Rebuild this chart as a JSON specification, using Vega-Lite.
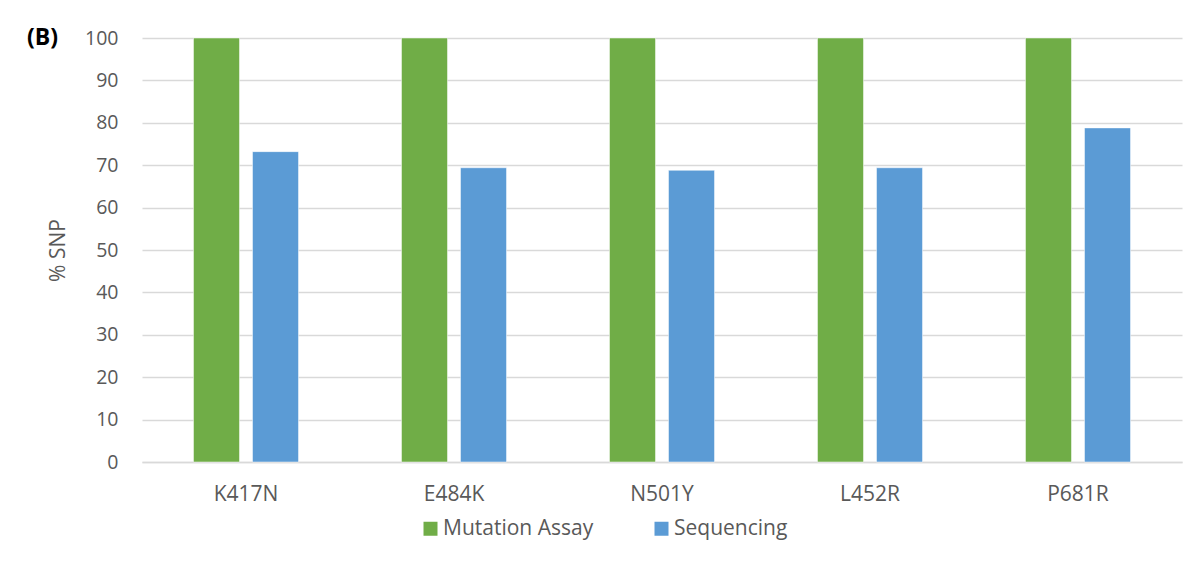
{
  "$schema": "https://vega.github.io/schema/vega-lite/v6.json",
  "width": 1040,
  "height": 424,
  "autosize": {"type": "none"},
  "padding": {"left": 142, "top": 38, "right": 22, "bottom": 117},
  "background": "white",
  "title": {
    "text": "(B)",
    "anchor": "start",
    "frame": "group",
    "orient": "top",
    "offset": 0,
    "baseline": "middle",
    "dx": -115,
    "dy": 33,
    "font": "Open Sans",
    "fontSize": 23,
    "fontWeight": "bold",
    "color": "#000000"
  },
  "data": {
    "values": [
      {"mutation": "K417N", "method": "Mutation Assay", "snp": 100},
      {"mutation": "K417N", "method": "Sequencing", "snp": 73.2},
      {"mutation": "E484K", "method": "Mutation Assay", "snp": 100},
      {"mutation": "E484K", "method": "Sequencing", "snp": 69.4},
      {"mutation": "N501Y", "method": "Mutation Assay", "snp": 100},
      {"mutation": "N501Y", "method": "Sequencing", "snp": 68.8},
      {"mutation": "L452R", "method": "Mutation Assay", "snp": 100},
      {"mutation": "L452R", "method": "Sequencing", "snp": 69.4},
      {"mutation": "P681R", "method": "Mutation Assay", "snp": 100},
      {"mutation": "P681R", "method": "Sequencing", "snp": 78.8}
    ]
  },
  "mark": {"type": "bar", "stroke": "white", "strokeWidth": 0.5},
  "encoding": {
    "x": {
      "field": "mutation",
      "type": "nominal",
      "sort": ["K417N", "E484K", "N501Y", "L452R", "P681R"],
      "scale": {"paddingInner": 0.495, "paddingOuter": 0.2475},
      "axis": {
        "title": null,
        "labelAngle": 0,
        "ticks": false,
        "tickSize": 0,
        "labelPadding": 21,
        "labelFont": "Open Sans",
        "labelFontSize": 21,
        "labelColor": "#595959",
        "domainColor": "#d9d9d9",
        "domainWidth": 1.5,
        "grid": false
      }
    },
    "xOffset": {
      "field": "method",
      "type": "nominal",
      "scale": {"paddingInner": 0.22, "paddingOuter": 0}
    },
    "y": {
      "field": "snp",
      "type": "quantitative",
      "scale": {"domain": [0, 100], "nice": false},
      "axis": {
        "title": "% SNP",
        "values": [0, 10, 20, 30, 40, 50, 60, 70, 80, 90, 100],
        "ticks": false,
        "tickSize": 0,
        "domain": false,
        "labelPadding": 24,
        "labelFont": "Open Sans",
        "labelFontSize": 19.5,
        "labelColor": "#595959",
        "gridColor": "#d9d9d9",
        "gridWidth": 1.5,
        "titleFont": "Open Sans",
        "titleFontSize": 21,
        "titleFontWeight": "normal",
        "titleColor": "#595959",
        "titlePadding": 16
      }
    },
    "color": {
      "field": "method",
      "type": "nominal",
      "scale": {"domain": ["Mutation Assay", "Sequencing"], "range": ["#70ad47", "#5b9bd5"]},
      "legend": {
        "title": null,
        "orient": "none",
        "direction": "horizontal",
        "legendX": 278,
        "legendY": 480,
        "symbolType": "square",
        "symbolSize": 196,
        "symbolStrokeWidth": 0,
        "labelFont": "Open Sans",
        "labelFontSize": 21,
        "labelColor": "#595959",
        "labelOffset": 2,
        "columnPadding": 57
      }
    }
  },
  "config": {"view": {"stroke": null}}
}
